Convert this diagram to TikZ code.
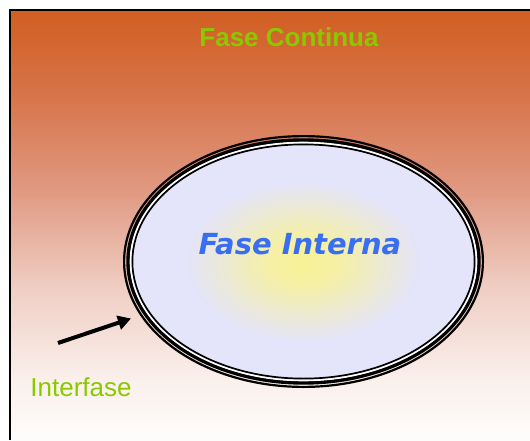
\documentclass[tikz,border=0pt]{standalone}
\usepackage{fontspec}
\setmainfont{Liberation Sans}
\newfontfamily\gotafont{DejaVu Sans}
\usetikzlibrary{arrows.meta}
\definecolor{naranja}{RGB}{210,94,34}
\definecolor{verdelima}{RGB}{140,200,0}
\definecolor{azulgota}{RGB}{58,110,240}
\definecolor{lavanda}{RGB}{228,228,250}
\definecolor{amarillo}{RGB}{248,242,150}
\pgfdeclareverticalshading{fondo}{100bp}{%
  rgb(0bp)=(0.996,0.99,0.985);
  rgb(25bp)=(0.996,0.99,0.985);
  rgb(32bp)=(0.98,0.94,0.925);
  rgb(42.5bp)=(0.94,0.81,0.77);
  rgb(54bp)=(0.88,0.6,0.51);
  rgb(65.5bp)=(0.84,0.45,0.28);
  rgb(75bp)=(0.82,0.37,0.13);
  rgb(100bp)=(0.82,0.37,0.13)}
\pgfdeclareradialshading{nucleo}{\pgfpoint{0bp}{0bp}}{%
  color(0bp)=(amarillo);
  color(5bp)=(amarillo!85!lavanda);
  color(17bp)=(lavanda);
  color(50bp)=(lavanda)}
\tikzset{
  etiqueta/.style={text=verdelima, inner sep=0pt},
  anillo/.style={draw=black, line width=#1},
}
\begin{document}
\begin{tikzpicture}[x=1pt,y=1pt]
            \useasboundingbox (0,0) rectangle (530,440);
            \fill[white] (0,0) rectangle (530,440);
            \shade[shading=fondo] (9.5,0) rectangle (530,430);
            \draw[line width=2] (9.5,0) -- (9.5,430) -- (530,430);
            \fill[shading=nucleo] (303.5,178.5) ellipse [x radius=171.5, y radius=117.5];
            \draw[anillo=2.2] (303.5,178.5) ellipse [x radius=179.4, y radius=125.4];
            \draw[anillo=3.6] (303.5,178.5) ellipse [x radius=175.4, y radius=121.4];
            \draw[white, line width=2] (303.5,178.5) ellipse [x radius=172.8, y radius=118.8];
            \draw[anillo=1.7] (303.5,178.5) ellipse [x radius=171.1, y radius=117.1];
            \node[etiqueta, font=\bfseries\fontsize{26}{30}\selectfont] (continua) at (289,403) {Fase Continua};
            \node[text=azulgota, inner sep=0pt, font=\gotafont\bfseries\itshape\fontsize{29}{34}\selectfont] (interna) at (300,196) {Fase Interna};
            \node[etiqueta, font=\fontsize{26}{30}\selectfont] (interfase) at (81,53) {Interfase};
            \coordinate (cola) at (58,97);
            \coordinate (punta) at (131,121.5);
            \draw[line width=4, -{Triangle[length=13pt,width=14pt]}] (cola) -- (punta);
        \end{tikzpicture}
\end{document}
